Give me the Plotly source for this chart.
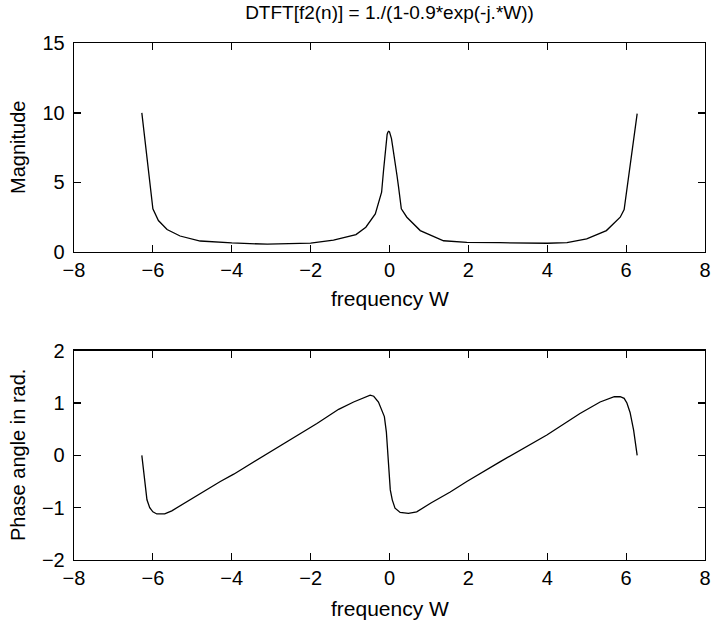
import plotly.graph_objects as go

# ---- data ----
W_mag = [-6.28, -6.0, -5.86, -5.64, -5.31, -4.8, -4.0, -3.1, -2.0, -1.42, -0.85,
         -0.6, -0.36, -0.2, -0.15, -0.11, -0.08, -0.06, -0.04, -0.02, 0.0, 0.02,
         0.05, 0.08, 0.11, 0.14, 0.19, 0.23, 0.3, 0.44, 0.78, 1.37, 1.96, 2.8,
         4.0, 4.5, 5.0, 5.5, 5.85, 5.95, 6.28]
mag = [10.0, 3.1, 2.26, 1.62, 1.15, 0.79, 0.65, 0.56, 0.64, 0.86, 1.25,
       1.78, 2.74, 4.3, 5.9, 7.3, 8.1, 8.45, 8.62, 8.68, 8.64, 8.5,
       8.15, 7.6, 7.1, 6.6, 5.5, 4.66, 3.1, 2.5, 1.54, 0.81, 0.69, 0.67,
       0.63, 0.67, 0.94, 1.54, 2.5, 3.05, 9.95]

W_ph = [-6.28, -6.15, -6.08, -6.0, -5.9, -5.7, -5.52, -5.22, -4.8, -4.29, -3.95,
        -3.1, -2.26, -1.84, -1.29, -0.91, -0.49, -0.4, -0.28, -0.2, -0.13, -0.08,
        -0.05, -0.02, 0.02, 0.07, 0.14, 0.27, 0.48, 0.69, 1.05, 1.54, 1.96, 2.81,
        3.99, 4.83, 5.34, 5.7, 5.85, 5.95, 6.02, 6.1, 6.19, 6.28]
phase = [0.0, -0.85, -1.0, -1.08, -1.12, -1.12, -1.06, -0.92, -0.73, -0.5, -0.36,
         0.03, 0.42, 0.61, 0.88, 1.02, 1.15, 1.13, 1.02, 0.88, 0.74, 0.45,
         0.1, -0.35, -0.66, -0.85, -1.01, -1.09, -1.11, -1.08, -0.91, -0.70, -0.50, -0.12,
         0.39, 0.80, 1.02, 1.12, 1.12, 1.09, 1.0, 0.82, 0.48, 0.0]

x_ticks = [-8, -6, -4, -2, 0, 2, 4, 6, 8]
mag_ticks = [0, 5, 10, 15]
phase_ticks = [-2, -1, 0, 1, 2]

title_text = "DTFT[f2(n)] = 1./(1-0.9*exp(-j.*W))"
x_title = "frequency W"
y1_title = "Magnitude"
y2_title = "Phase angle in rad."

# ---- figure ----
H = 623.0
FONT = "Liberation Sans, Arial, Helvetica, sans-serif"
FS = 20

fig = go.Figure()
fig.add_trace(go.Scatter(x=W_mag, y=mag, mode="lines",
                         line=dict(color="black", width=1.3),
                         xaxis="x", yaxis="y", showlegend=False))
fig.add_trace(go.Scatter(x=W_ph, y=phase, mode="lines",
                         line=dict(color="black", width=1.3),
                         xaxis="x2", yaxis="y2", showlegend=False))

common = dict(showgrid=False, zeroline=False, showline=True, linecolor="black",
              linewidth=1.3, mirror="ticks", ticks="inside", ticklen=7,
              tickwidth=1.2, tickcolor="black", ticklabeloverflow="allow",
              automargin=False,
              tickfont=dict(family=FONT, size=FS, color="black"))

fig.update_layout(
    width=711, height=623,
    paper_bgcolor="white", plot_bgcolor="white",
    margin=dict(l=74, r=6, t=0, b=0, autoexpand=False),
    font=dict(family=FONT, size=FS, color="black"),
    hovermode=False,
    xaxis=dict(domain=[0, 1], range=[-8, 8], tickvals=x_ticks, anchor="y",
               ticklabelstandoff=0, **common),
    yaxis=dict(domain=[1 - 252 / H, 1 - 43.4 / H], range=[0, 15],
               tickvals=mag_ticks, anchor="x", ticklabelstandoff=4, **common),
    xaxis2=dict(domain=[0, 1], range=[-8, 8], tickvals=x_ticks, anchor="y2",
                ticklabelstandoff=0, **common),
    yaxis2=dict(domain=[1 - 560 / H, 1 - 350.7 / H], range=[-2, 2],
                tickvals=phase_ticks, anchor="x2", ticklabelstandoff=4, **common),
    title=dict(text=title_text, x=0.5, xref="paper", xanchor="center",
               y=1 - 12 / H, yref="container", yanchor="middle",
               font=dict(family=FONT, size=19, color="black")),
    annotations=[
        dict(text=x_title, x=0.5, y=1 - 298 / H, xref="paper", yref="paper",
             xanchor="center", yanchor="middle", showarrow=False,
             font=dict(family=FONT, size=FS + 1, color="black")),
        dict(text=x_title, x=0.5, y=1 - 608 / H, xref="paper", yref="paper",
             xanchor="center", yanchor="middle", showarrow=False,
             font=dict(family=FONT, size=FS + 1, color="black")),
        dict(text=y1_title, x=(18 - 74) / 631, y=1 - 148 / H, xref="paper",
             yref="paper", xanchor="center", yanchor="middle", textangle=-90,
             showarrow=False, font=dict(family=FONT, size=FS, color="black")),
        dict(text=y2_title, x=(18 - 74) / 631, y=1 - 455 / H, xref="paper",
             yref="paper", xanchor="center", yanchor="middle", textangle=-90,
             showarrow=False, font=dict(family=FONT, size=FS, color="black")),
    ],
)

fig.write_html(
    "out.html",
    config={"displayModeBar": False, "staticPlot": True},
    post_script="document.body.style.margin='0px';document.body.style.overflow='hidden';",
)
